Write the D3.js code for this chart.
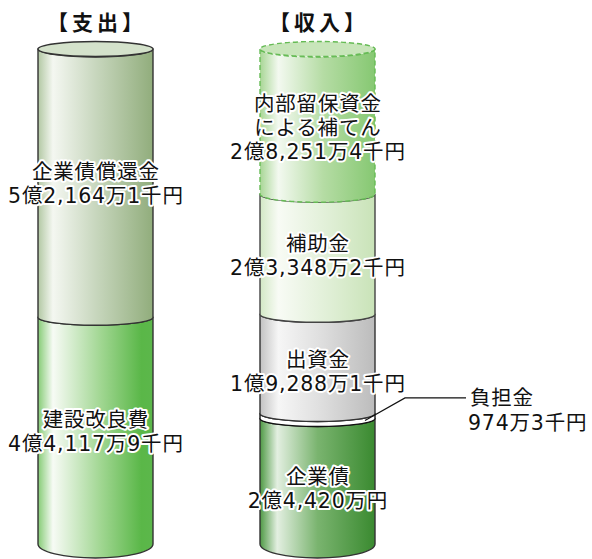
<!DOCTYPE html>
<html><head><meta charset="utf-8">
<script src="https://cdn.jsdelivr.net/npm/d3@7"></script>
<style>
html,body{margin:0;padding:0;background:#fff;}
svg{display:block;}
text{font-family:"DejaVu Sans","Noto Sans CJK JP",sans-serif;}
</style></head>
<body>
<script>
// ---- data (万円) ----
const columns = ["支出", "収入"];
const titles = ["【支出】", "【収入】"];
const expenseNames = [["企業債償還金"], ["建設改良費"]];
const expenseValues = [52164.1, 44117.9];
const expenseLabels = ["5億2,164万1千円", "4億4,117万9千円"];
const incomeNames = [["内部留保資金", "による補てん"], ["補助金"], ["出資金"], ["負担金"], ["企業債"]];
const incomeValues = [28251.4, 23348.2, 19288.1, 974.3, 24420];
const incomeLabels = ["2億8,251万4千円", "2億3,348万2千円", "1億9,288万1千円", "974万3千円", "2億4,420万円"];

const W = 592, H = 559;
const svg = d3.select("body").append("svg").attr("width", W).attr("height", H);
const defs = svg.append("defs");

const total = d3.sum(expenseValues);
const y = d3.scaleLinear().domain([0, total]).range([49, 544]);
const x = d3.scaleBand().domain(columns).range([38, 375]).paddingInner(0.482);
const rx = x.bandwidth() / 2;
const ryTop = 7.5, ryMid = 8, ryBot = 14;

function grad(id, stops) {
  const g = defs.append("linearGradient").attr("id", id).attr("x1", 0).attr("x2", 1).attr("y1", 0).attr("y2", 0);
  stops.forEach(s => g.append("stop").attr("offset", s[0]).attr("stop-color", s[1]));
  return "url(#" + id + ")";
}
const styles = {
  "支出": [
    {fill: grad("e0", [[0,"#b2c8a3"],[0.13,"#f4f7f1"],[0.5,"#c8d7be"],[1,"#91ad7c"]]), top: "#d4e2cb", stroke: "#333", dash: null},
    {fill: grad("e1", [[0,"#86cc76"],[0.13,"#f7fbf5"],[0.55,"#a0d691"],[0.9,"#5ab748"],[1,"#5cb74b"]]), top: null, stroke: "#333", dash: null}
  ],
  "収入": [
    {fill: grad("i0", [[0,"#a8d695"],[0.16,"#f3f9f0"],[0.55,"#b5dca4"],[1,"#86c872"]]), top: "#c8e5ba", stroke: "#66bb55", dash: "5,3"},
    {fill: grad("i1", [[0,"#d2e8c5"],[0.16,"#f8fbf5"],[0.6,"#e0efd6"],[1,"#c9e3b8"]]), top: null, stroke: "#444", dash: null},
    {fill: grad("i2", [[0,"#c2c2c2"],[0.16,"#f6f6f6"],[0.55,"#dddddd"],[1,"#bcbcbc"]]), top: null, stroke: "#333", dash: null},
    {fill: "#ffffff", top: null, stroke: "#111", dash: null},
    {fill: grad("i3", [[0,"#4f9a45"],[0.15,"#e3efe1"],[0.5,"#7ab46f"],[1,"#3a8a30"]]), top: null, stroke: "#333", dash: null}
  ]
};

function segPath(x0, x1, y1, r1, y2, r2) {
  return `M${x0},${y1} L${x0},${y2} A${rx},${r2} 0 0 0 ${x1},${y2} L${x1},${y1} A${rx},${r1} 0 0 1 ${x0},${y1} Z`;
}

function drawColumn(col, values, names, labels, labelOffsets) {
  const x0 = x(col), x1 = x0 + x.bandwidth(), cx = x0 + rx;
  let cum = 0;
  const segs = values.map((v, i) => {
    const s = {i, v, a: cum, b: cum + v};
    cum += v;
    return s;
  });
  const n = segs.length;
  const g = svg.append("g");
  segs.slice().reverse().forEach(s => {
    const st = styles[col][s.i];
    const y1 = y(s.a), y2 = y(s.b);
    const r1 = ryMid, r2 = s.i === n - 1 ? ryBot : ryMid;
    g.append("path").attr("d", segPath(x0, x1, y1, r1, y2, r2))
      .attr("fill", st.fill).attr("stroke", st.stroke).attr("stroke-width", 1.4)
      .attr("stroke-dasharray", st.dash).attr("stroke-linejoin", "round");
    if (s.i === 0) {
      g.append("ellipse").attr("cx", cx).attr("cy", y1).attr("rx", rx).attr("ry", ryTop)
        .attr("fill", st.top).attr("stroke", st.stroke).attr("stroke-width", 1.4).attr("stroke-dasharray", st.dash);
    }
  });
  segs.forEach(s => {
    if (labelOffsets[s.i] === null) return;
    const lines = names[s.i].concat([labels[s.i]]);
    const mid = (y(s.a) + y(s.b)) / 2 + labelOffsets[s.i];
    const lh = 24;
    const startY = mid - (lines.length - 1) * lh / 2;
    lines.forEach((t, k) => {
      svg.append("text").attr("x", cx + 0.4).attr("y", startY + k * lh + 7.5)
        .attr("text-anchor", "middle").attr("font-size", 20.5).attr("letter-spacing", 0.8)
        .attr("fill", "#111")
        .attr("stroke", "#fff").attr("stroke-width", 4).attr("stroke-linejoin", "round")
        .attr("paint-order", "stroke").text(t);
    });
  });
  return segs;
}

drawColumn("支出", expenseValues, expenseNames, expenseLabels, [0, 1]);
const inc = drawColumn("収入", incomeValues, incomeNames, incomeLabels, [6, 1, 8, null, 7]);

// titles
columns.forEach((c, i) => {
  svg.append("text").attr("x", x(c) + rx + 1.5).attr("y", 30).attr("text-anchor", "middle")
    .attr("font-size", 21).attr("font-weight", "bold").attr("letter-spacing", 4).attr("fill", "#111")
    .attr("font-family", "Noto Sans CJK JP").text(titles[i]);
});

// leader for 負担金
const band = inc[3];
const bx0 = x("収入"), bcx = bx0 + rx;
const px = bx0 + x.bandwidth() - 10;
const bandMid = (y(band.a) + y(band.b)) / 2;
const py = bandMid + ryMid * Math.sqrt(1 - Math.pow((px - bcx) / rx, 2));
const ly = bandMid - 18;
svg.append("polyline")
  .attr("points", `${px},${py} ${px + 40},${ly} ${px + 101},${ly}`)
  .attr("fill", "none").attr("stroke", "#111").attr("stroke-width", 1.2);
const lx = px + 103;
[incomeNames[3][0], incomeLabels[3]].forEach((t, k) => {
  svg.append("text").attr("x", lx + (k === 0 ? 2 : 0)).attr("y", ly + k * 25 + 7.5)
    .attr("font-size", 20.5).attr("letter-spacing", 0.8).attr("fill", "#111").text(t);
});
</script>
</body></html>
